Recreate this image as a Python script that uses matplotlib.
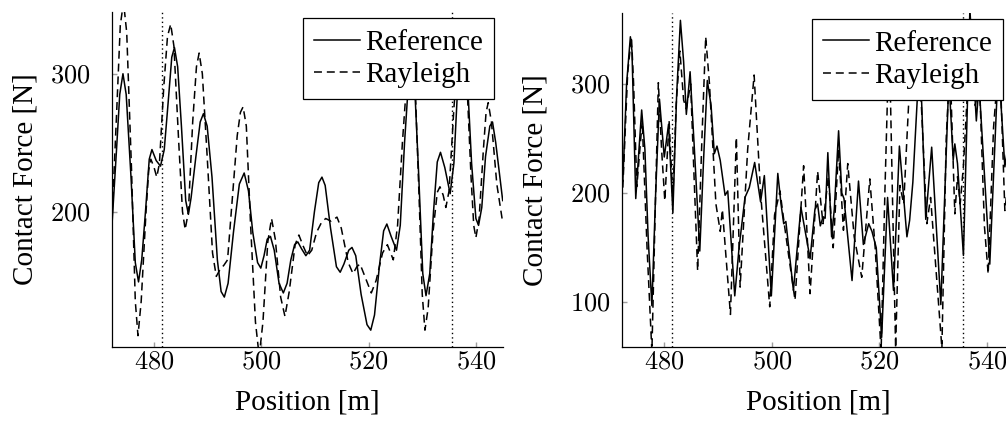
import matplotlib
matplotlib.use("Agg")
import matplotlib.pyplot as plt

plt.rcParams['mathtext.fontset'] = 'cm'
plt.rcParams['font.family'] = ['Liberation Serif', 'DejaVu Serif']

# ---------------- data ----------------
xticks = [480, 500, 520, 540]
yticks_left = [200, 300]
yticks_right = [100, 200, 300]
marker_positions = [481.5, 535.5]
series_labels = ["Reference", "Rayleigh"]

# Left panel: Reference (solid)
left_ref_x = [472.1, 473.0, 473.6, 474.2, 474.8, 475.7, 476.5, 477.1, 477.7, 478.4, 479.1, 479.6,
              480.4, 481.2, 481.9, 482.6, 483.3, 483.8, 484.4, 485.1, 485.9, 486.4, 486.9, 487.8,
              488.6, 489.2, 489.9, 490.8, 491.8, 492.5, 493.1, 493.8, 494.8, 495.9, 496.8, 497.6,
              498.4, 499.3, 499.9, 500.5, 501.1, 501.7, 502.4, 503.3, 504.1, 504.8, 505.5, 506.2,
              506.8, 507.5, 508.3, 509.0, 509.9, 510.7, 511.3, 511.9, 512.9, 514.0, 514.7, 515.4,
              516.3, 516.9, 517.6, 518.6, 519.7, 520.4, 521.1, 522.0, 522.8, 523.4, 524.2, 525.2,
              525.9, 526.7, 527.4, 528.0, 528.6, 529.3, 530.1, 530.7, 531.4, 532.1, 532.8, 533.4,
              534.2, 535.2, 535.9, 536.6, 537.2, 537.7, 538.3, 539.2, 540.0, 540.5, 541.1, 541.8,
              542.6, 543.1, 543.7, 545.0]
left_ref_y = [187, 245, 285, 300, 285, 225, 163, 149, 165, 200, 238, 245,
              237, 233, 245, 278, 312, 319, 305, 262, 208, 198, 210, 240,
              265, 271, 262, 225, 165, 142, 138, 148, 185, 220, 228, 215,
              185, 163, 159, 168, 180, 182, 172, 148, 141, 148, 165, 176,
              178, 173, 168, 172, 200, 221, 225, 219, 188, 160, 156, 162,
              172, 174, 168, 140, 118, 114, 125, 160, 186, 191, 182, 172,
              190, 250, 292, 300, 290, 230, 155, 139, 155, 200, 236, 243,
              232, 213, 235, 290, 316, 320, 305, 235, 195, 190, 203, 240,
              262, 265, 250, 208]

# Left panel: Rayleigh (dashed)
left_ray_x = [472.1, 473.0, 473.7, 474.3, 474.9, 475.8, 476.5, 477.0, 477.6, 478.5, 479.0, 479.4,
              480.0, 480.5, 481.0, 481.8, 482.5, 483.1, 483.7, 484.6, 485.3, 485.8, 486.4, 487.2,
              487.9, 488.4, 489.0, 489.9, 490.9, 491.6, 492.3, 493.0, 493.7, 494.6, 495.5, 496.1,
              496.6, 497.2, 498.0, 498.9, 499.6, 500.3, 501.2, 501.9, 502.6, 503.6, 504.4, 505.2,
              506.3, 507.0, 507.8, 508.6, 509.4, 510.3, 511.2, 512.0, 513.0, 514.1, 514.9, 516.2,
              517.1, 517.8, 518.4, 519.3, 520.5, 521.4, 522.6, 523.5, 524.0, 524.6, 525.4, 526.3,
              527.2, 528.0, 528.7, 529.5, 530.0, 530.5, 531.1, 532.0, 532.8, 533.3, 533.9, 534.4,
              535.0, 535.9, 536.8, 537.5, 538.2, 539.1, 539.6, 540.0, 540.6, 541.4, 541.9, 542.3,
              542.9, 543.9, 545.0]
left_ray_y = [190, 270, 335, 352, 330, 230, 135, 110, 135, 200, 230, 238,
              232, 225, 235, 290, 327, 336, 320, 250, 200, 187, 200, 265,
              305, 315, 300, 240, 170, 153, 158, 161, 165, 210, 255, 272,
              276, 262, 190, 120, 95, 120, 178, 195, 180, 138, 124, 142,
              176, 183, 175, 168, 172, 185, 192, 195, 193, 196, 188, 163,
              155, 160, 162, 153, 141, 150, 170, 176, 171, 165, 190, 250,
              300, 315, 290, 200, 140, 114, 130, 185, 214, 218, 212, 203,
              215, 275, 320, 330, 305, 225, 190, 181, 195, 245, 272, 279,
              265, 220, 192]

# Right panel: Reference (solid)
right_ref_x = [472.3, 473.0, 473.7, 474.0, 474.7, 475.3, 475.8, 476.4, 477.0, 477.7, 478.4, 479.1,
               480.0, 480.8, 481.6, 482.3, 483.0, 483.6, 484.1, 484.8, 485.6, 486.6, 487.3, 488.0,
               488.7, 489.3, 489.8, 490.4, 491.3, 491.8, 493.1, 493.9, 495.0, 495.8, 496.8, 497.9,
               498.6, 499.9, 501.1, 501.7, 502.2, 502.6, 504.0, 505.4, 507.1, 508.0, 508.5, 509.0,
               509.5, 509.9, 510.4, 511.1, 511.6, 512.4, 513.0, 513.4, 514.9, 516.1, 517.0, 518.0,
               518.6, 519.4, 520.4, 521.5, 522.6, 523.7, 525.1, 525.6, 526.2, 527.5, 528.6, 529.7,
               531.4, 532.9, 533.7, 534.0, 534.5, 535.6, 536.8, 538.0, 538.5, 540.5, 542.1, 543.3,
               545.0]
right_ref_y = [211, 300, 343, 330, 195, 240, 276, 240, 160, 97, 200, 286,
               233, 263, 182, 290, 358, 320, 272, 311, 240, 147, 230, 303,
               280, 236, 243, 230, 198, 202, 106, 150, 196, 205, 228, 192,
               216, 106, 218, 190, 172, 174, 111, 187, 140, 185, 190, 170,
               178, 177, 237, 160, 185, 257, 200, 195, 120, 211, 153, 172,
               165, 150, 68, 196, 111, 243, 160, 175, 210, 330, 176, 242,
               98, 305, 230, 245, 227, 143, 368, 266, 300, 135, 320, 224,
               280]

# Right panel: Rayleigh (dashed)
right_ray_x = [472.3, 473.2, 473.9, 474.3, 474.9, 475.9, 476.8, 477.7, 478.3, 478.9, 479.5, 480.1,
               480.9, 481.6, 482.2, 482.9, 483.6, 484.1, 484.9, 485.5, 486.2, 487.0, 487.7, 488.4,
               489.0, 489.6, 490.4, 490.8, 491.5, 492.3, 493.4, 494.1, 495.5, 496.7, 497.9, 499.6,
               500.5, 501.5, 502.3, 503.2, 504.3, 505.9, 507.1, 508.5, 509.5, 510.5, 511.4, 512.4,
               513.3, 514.1, 515.3, 516.7, 518.2, 519.2, 520.3, 521.0, 521.8, 522.4, 523.0, 523.8,
               524.5, 525.4, 526.5, 527.6, 528.8, 529.5, 530.2, 531.6, 532.4, 533.1, 534.0, 534.5,
               535.0, 535.6, 537.0, 537.8, 538.6, 539.5, 540.2, 541.2, 542.3, 543.3, 545.0]
right_ray_y = [205, 310, 343, 300, 206, 266, 150, 55, 180, 301, 240, 193,
               266, 195, 280, 330, 285, 277, 300, 220, 129, 250, 343, 300,
               245, 190, 165, 185, 140, 89, 251, 114, 240, 308, 200, 96,
               180, 202, 172, 140, 102, 225, 108, 220, 172, 215, 150, 240,
               166, 227, 160, 123, 213, 150, 55, 200, 345, 200, 58, 207,
               190, 280, 340, 300, 172, 196, 150, 58, 250, 320, 181, 215,
               190, 225, 352, 280, 300, 170, 126, 260, 330, 184, 260]

# ---------------- figure ----------------
fig = plt.figure(figsize=(10.06, 4.21), dpi=100)
W, H = 1006.0, 421.0

def make_axes(l_px, r_px, t_px, b_px):
    return fig.add_axes([l_px / W, 1 - b_px / H, (r_px - l_px) / W, (b_px - t_px) / H])

ax1 = make_axes(111.7, 502.7, 11.7, 346.7)
ax2 = make_axes(622.3, 1014.0, 12.7, 346.7)

panels = [
    (ax1, left_ref_x, left_ref_y, left_ray_x, left_ray_y, (472.1, 545.0), (102, 345), yticks_left, 15.0,
     (0.9785, 0.980)),
    (ax2, right_ref_x, right_ref_y, right_ray_x, right_ray_y, (472.2, 545.0), (59.5, 365), yticks_right, 8.8,
     (0.9727, 0.981)),
]

for ax, rx, ry, dx, dy, xl, yl, yt, ypad, lpos in panels:
    ax.plot(rx, ry, color='black', lw=1.1, label=series_labels[0], solid_joinstyle='round')
    ax.plot(dx, dy, color='black', lw=1.1, dashes=(5.2, 3.2), label=series_labels[1])
    for m in marker_positions:
        ax.axvline(m, color='black', lw=1.0, linestyle=(0, (1, 2.2)))
    ax.set_xlim(*xl)
    ax.set_ylim(*yl)
    ax.spines['top'].set_visible(False)
    ax.spines['right'].set_visible(False)
    for s in ('left', 'bottom'):
        ax.spines[s].set_linewidth(0.9)
    ax.set_xticks(xticks)
    ax.set_xticklabels([f'${t}$' for t in xticks])
    ax.set_yticks(yt)
    ax.set_yticklabels([f'${t}$' for t in yt])
    ax.tick_params(axis='both', direction='in', length=3.5, width=1.0, color='0.62',
                   labelsize=19, labelcolor='black')
    ax.tick_params(axis='x', pad=3.5)
    ax.tick_params(axis='y', pad=ypad)
    ax.set_xlabel('Position [m]', fontsize=21, va='center')
    ax.xaxis.set_label_coords(0.5, -0.168)
    ax.set_ylabel('Contact Force [N]', fontsize=21, va='center')
    ax.yaxis.set_label_coords(-0.2215, 0.5)
    leg = ax.legend(loc='upper right', bbox_to_anchor=lpos, bbox_transform=ax.transAxes,
                    borderaxespad=0, fancybox=False, framealpha=1, edgecolor='black',
                    fontsize=21, handlelength=1.55, handletextpad=0.2, labelspacing=0.2,
                    borderpad=0.38)
    leg.get_frame().set_linewidth(0.9)
    leg.set_zorder(10)

fig.savefig('out.png', dpi=100)
